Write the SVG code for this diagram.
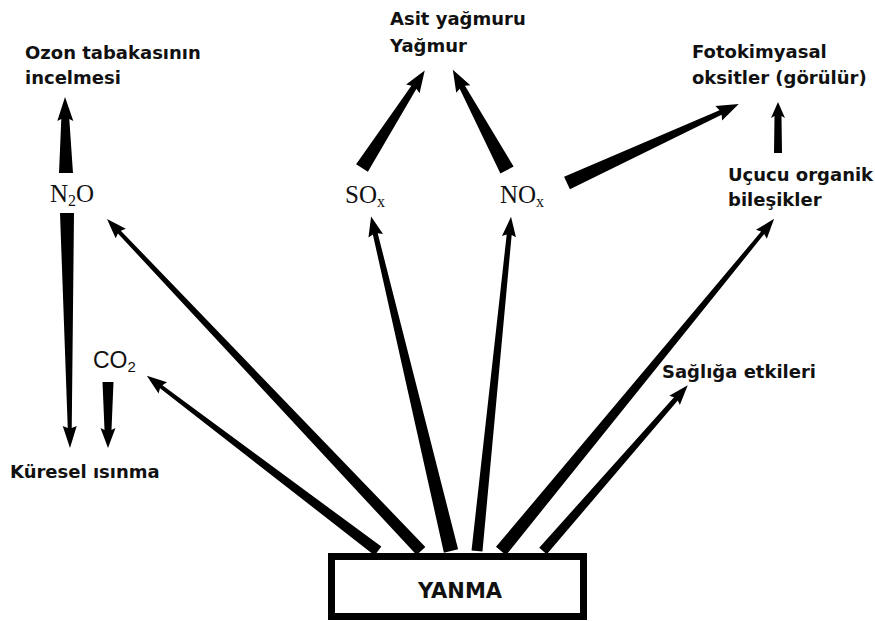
<svg xmlns="http://www.w3.org/2000/svg" width="875" height="621" viewBox="0 0 875 621">
<style>
.lbl{font-family:"DejaVu Sans",Verdana,sans-serif;font-weight:bold;font-size:18px;fill:#111}
.chem{font-family:"Liberation Serif","Times New Roman",serif;font-size:25px;fill:#111}
.chems{font-family:"Liberation Sans",Arial,sans-serif;font-size:23px;fill:#111}
.arr{fill:#000}
</style>
<rect width="875" height="621" fill="#fff"/>
<g id="yanma">
<rect x="331.5" y="556.5" width="252" height="60" fill="#fff" stroke="#000" stroke-width="7"/>
<text class="lbl" x="460" y="598" text-anchor="middle" style="font-size:21px">YANMA</text>
</g>
<g id="ozon">
<text class="lbl" x="25" y="59">Ozon tabakasının</text>
<text class="lbl" x="25" y="84">incelmesi</text>
</g>
<g id="asit">
<text class="lbl" x="390" y="25">Asit yağmuru</text>
<text class="lbl" x="390" y="52">Yağmur</text>
</g>
<g id="foto">
<text class="lbl" x="692" y="58">Fotokimyasal</text>
<text class="lbl" x="692" y="84">oksitler (görülür)</text>
</g>
<g id="ucucu">
<text class="lbl" x="728" y="181">Uçucu organik</text>
<text class="lbl" x="728" y="206">bileşikler</text>
</g>
<g id="saglik">
<text class="lbl" x="662" y="378">Sağlığa etkileri</text>
</g>
<g id="kuresel">
<text class="lbl" x="10" y="478">Küresel ısınma</text>
</g>
<g id="n2o">
<text class="chem" x="50" y="202">N<tspan font-size="16" dy="4">2</tspan><tspan dy="-4">O</tspan></text>
</g>
<g id="sox">
<text class="chem" x="345" y="203">SO<tspan font-size="16" dy="4">x</tspan></text>
</g>
<g id="nox">
<text class="chem" x="500" y="203">NO<tspan font-size="16" dy="4">x</tspan></text>
</g>
<g id="co2">
<text class="chems" x="93" y="368">CO<tspan font-size="15" dy="4">2</tspan></text>
</g>
<g id="connectors" class="arr">
<path transform="translate(378,551) rotate(-142.85)" d="M0,-5.5 L272,-2 L270,-7 L290,0 L270,7 L272,2 L0,5.5Z"/>
<path transform="translate(421,551) rotate(-133.4)" d="M0,-6 L439,-2 L437,-7 L457,0 L437,7 L439,2 L0,6Z"/>
<path transform="translate(451,551) rotate(-103.43)" d="M0,-7.3 L326,-2.5 L324,-7.5 L344,0 L324,7.5 L326,2.5 L0,7.3Z"/>
<path transform="translate(477,551) rotate(-84.19)" d="M0,-5.5 L318,-2.5 L316,-7 L336,0 L316,7 L318,2.5 L0,5.5Z"/>
<path transform="translate(501,551) rotate(-50.57)" d="M0,-6.5 L412,-2 L410,-7 L430,0 L410,7 L412,2 L0,6.5Z"/>
<path transform="translate(543,551) rotate(-48.86)" d="M0,-5 L202,-2.5 L200,-7 L220,0 L200,7 L202,2.5 L0,5Z"/>
<path transform="translate(362,168) rotate(-57.26)" d="M0,-7 L96,-3 L94,-8 L116,0 L94,8 L96,3 L0,7Z"/>
<path transform="translate(507,170) rotate(-118.37)" d="M0,-7.5 L94,-3 L92,-8 L114,0 L92,8 L94,3 L0,7.5Z"/>
<path transform="translate(567,183) rotate(-24.67)" d="M0,-7 L169,-2.5 L167,-8 L189,0 L167,8 L169,2.5 L0,7Z"/>
<path transform="translate(778,153) rotate(-90)" d="M0,-4 L37,-3.5 L35,-7 L51,0 L35,7 L37,3.5 L0,4Z"/>
<path transform="translate(66,173) rotate(-90.75)" d="M0,-7 L54,-4 L52,-8 L76,0 L52,8 L54,4 L0,7Z"/>
<path transform="translate(67,213) rotate(89.27)" d="M0,-7 L215,-2 L213,-7 L235,0 L213,7 L215,2 L0,7Z"/>
<path transform="translate(108,382) rotate(90)" d="M0,-5.5 L48,-3.5 L46,-7.5 L66,0 L46,7.5 L48,3.5 L0,5.5Z"/>
</g>
</svg>
